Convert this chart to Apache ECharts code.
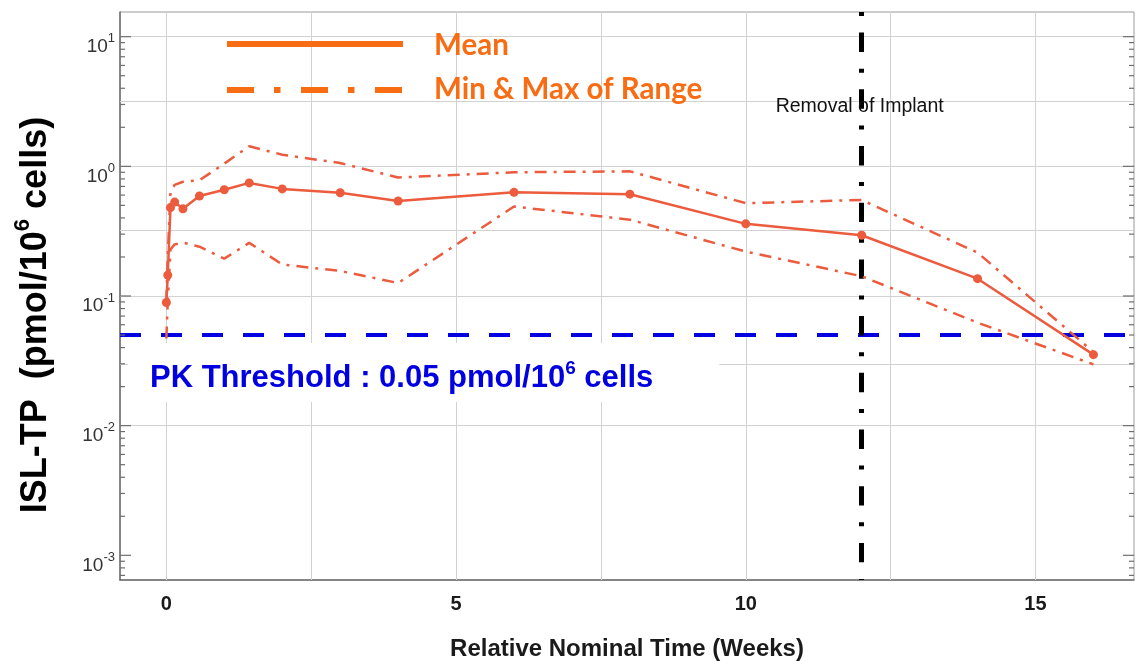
<!DOCTYPE html>
<html>
<head>
<meta charset="utf-8">
<script src="https://cdn.jsdelivr.net/npm/echarts@6/dist/echarts.min.js"></script>
<style>
  html, body { margin: 0; padding: 0; background: #fff; }
  #chart { width: 1138px; height: 661px; }
</style>
</head>
<body>
<div id="chart"></div>
<script>
// Nominal sampling times (weeks)
const weeks = [0, 0.024, 0.071, 0.143, 0.286, 0.571, 1, 1.43, 2, 3, 4, 6, 8, 10, 12, 14, 16];
// ISL-TP concentrations (pmol/10^6 cells)
const meanConc = [0.089, 0.145, 0.48, 0.53, 0.47, 0.59, 0.66, 0.745, 0.67, 0.625, 0.54, 0.63, 0.61, 0.36, 0.294, 0.136, 0.0353];
const maxConc  = [0.09, 0.2, 0.63, 0.72, 0.76, 0.78, 1.05, 1.43, 1.23, 1.06, 0.82, 0.90, 0.915, 0.52, 0.55, 0.216, 0.037];
const minConc  = [0.047, 0.09, 0.228, 0.25, 0.258, 0.24, 0.194, 0.257, 0.175, 0.156, 0.126, 0.49, 0.388, 0.22, 0.142, 0.0623, 0.0297];

// Reference levels
const pkThreshold = 0.05;      // pmol/10^6 cells
const implantRemovalWeek = 12; // weeks

// Axis gridline / tick positions
const xGridWeeks = [0, 2.5, 5, 7.5, 10, 12.5, 15];
const yGridExponents = [-3, -2.5, -2, -1.5, -1, -0.5, 0, 0.5, 1];
const yDecadeExponents = [-4, -3, -2, -1, 0, 1];
const yMinorMultipliers = [2, 3, 4, 5, 6, 7, 8, 9];

const X_MIN = -0.8, X_MAX = 16.7;
const Y_MIN = 6.45e-4, Y_MAX = 15.5;

const lineRed = '#EC5B3D';
const legendOrange = '#F86C14';
const thresholdBlue = '#0000E0';
const fontMain = '"Liberation Sans", Arial, sans-serif';

// tick marks along both vertical edges: [value, isMajor]
const yTickMarks = [];
yDecadeExponents.forEach(e => {
  const base = Math.pow(10, e);
  yTickMarks.push([base, 1]);
  yMinorMultipliers.forEach(m => yTickMarks.push([m * base, 0]));
});
const yTicksInRange = yTickMarks.filter(t => t[0] >= Y_MIN && t[0] <= Y_MAX);

const chart = echarts.init(document.getElementById('chart'), null, { renderer: 'canvas' });

const option = {
  animation: false,
  backgroundColor: '#fff',
  grid: {
    left: 120, right: 4, top: 12, bottom: 81,
    outerBoundsMode: 'none', containLabel: false,
    show: true, borderColor: '#9a9a9a', borderWidth: 1, backgroundColor: 'transparent'
  },
  xAxis: {
    type: 'value', min: X_MIN, max: X_MAX, splitNumber: 3,
    axisLine: { show: true, onZero: false, lineStyle: { color: '#6e6e6e', width: 1.5 } },
    axisTick: { show: false },
    splitLine: { show: false },
    axisLabel: {
      showMinLabel: false, showMaxLabel: false, margin: 14,
      color: '#1a1a1a', fontSize: 20, fontWeight: 'bold', fontFamily: fontMain
    },
    name: 'Relative Nominal Time (Weeks)',
    nameLocation: 'middle', nameGap: 57,
    nameTextStyle: { color: '#1a1a1a', fontSize: 24, fontWeight: 'bold', fontFamily: fontMain }
  },
  yAxis: {
    type: 'log', logBase: 10, min: Y_MIN, max: Y_MAX,
    axisLine: { show: true, onZero: false, lineStyle: { color: '#6e6e6e', width: 1.5 } },
    axisTick: { show: false },
    splitLine: { show: false },
    minorTick: { show: false },
    axisLabel: {
      showMinLabel: false, showMaxLabel: false, margin: 5,
      padding: [15, 0, 0, 0],
      formatter: v => {
        const e = Math.round(Math.log10(v));
        return '{b|10}{s|' + (e < 0 ? '-' : '') + Math.abs(e) + '}';
      },
      rich: {
        b: { fontSize: 19, fontFamily: fontMain, color: '#333', padding: [5, 0, 0, 0] },
        s: { fontSize: 13, fontFamily: fontMain, color: '#333', verticalAlign: 'top' }
      }
    }
  },
  series: [
    {
      // light gridlines
      name: 'grid', type: 'line', data: [], silent: true,
      markLine: {
        silent: true, z: 1, symbol: 'none', animation: false,
        label: { show: false },
        lineStyle: { color: '#d2d2d2', width: 1, type: 'solid' },
        data: [
          ...xGridWeeks.map(w => ({ xAxis: w })),
          ...yGridExponents.map(e => ({ yAxis: Math.pow(10, e) }))
        ]
      }
    },
    {
      name: 'PK Threshold', type: 'line', data: [], silent: true,
      markLine: {
        silent: true, z: 2, symbol: 'none', animation: false,
        lineStyle: { color: thresholdBlue, width: 4, type: [21, 20] },
        label: {
          show: true, position: 'insideStartBottom', distance: 8,
          backgroundColor: '#fff', padding: [16, 66, 8, 22],
          formatter: () => '{n|PK Threshold : ' + pkThreshold + ' pmol/10}{s|6}{n| cells}',
          rich: {
            n: { fontSize: 31, fontWeight: 'bold', fontFamily: fontMain, color: thresholdBlue, padding: [4, 0, 0, 0] },
            s: { fontSize: 19, fontWeight: 'bold', fontFamily: fontMain, color: thresholdBlue, verticalAlign: 'top' }
          }
        },
        data: [{ yAxis: pkThreshold }]
      }
    },
    {
      name: 'Removal of Implant', type: 'line', data: [], silent: true,
      markLine: {
        silent: true, z: 2, symbol: 'none', animation: false,
        label: { show: false },
        lineStyle: { color: '#000', width: 5, type: [19.4, 16.6, 4, 16.7], dashOffset: 39 },
        data: [{ xAxis: implantRemovalWeek }]
      }
    },
    {
      name: 'Max', type: 'line', z: 3, symbol: 'none',
      data: weeks.map((w, i) => [w, maxConc[i]]),
      lineStyle: { color: lineRed, width: 2.5, type: [12, 7, 3, 7] }
    },
    {
      name: 'Min', type: 'line', z: 3, symbol: 'none',
      data: weeks.map((w, i) => [w, minConc[i]]),
      lineStyle: { color: lineRed, width: 2.5, type: [12, 7, 3, 7] }
    },
    {
      name: 'Mean', type: 'line', z: 4, symbol: 'circle', symbolSize: 9,
      data: weeks.map((w, i) => [w, meanConc[i]]),
      lineStyle: { color: lineRed, width: 2.5 },
      itemStyle: { color: lineRed }
    },
    {
      // log tick marks on left and right frame edges
      name: 'yTicks', type: 'custom', silent: true, z: 5, clip: false,
      data: yTicksInRange.map(t => [0, t[0], t[1]]),
      encode: { x: 0, y: 1 },
      renderItem: (params, api) => {
        const cs = params.coordSys;
        const y = api.coord([0, api.value(1)])[1];
        const len = api.value(2) ? 11 : 5;
        const st = { stroke: '#6e6e6e', lineWidth: 1.2 };
        return {
          type: 'group',
          children: [
            { type: 'line', shape: { x1: cs.x, y1: y, x2: cs.x + len, y2: y }, style: st },
            { type: 'line', shape: { x1: cs.x + cs.width, y1: y, x2: cs.x + cs.width - len, y2: y }, style: st }
          ]
        };
      }
    }
  ]
};

chart.setOption(option);

// annotations placed through the chart's own coordinate conversion
const removalPt = chart.convertToPixel({ gridIndex: 0 }, [implantRemovalWeek, 2.9]);

chart.setOption({
  graphic: [
    // legend
    { type: 'line', shape: { x1: 227, y1: 44, x2: 403, y2: 44 }, style: { stroke: legendOrange, lineWidth: 6 }, z: 10 },
    { type: 'line', shape: { x1: 227, y1: 90, x2: 403, y2: 90 }, style: { stroke: legendOrange, lineWidth: 6, lineDash: [27, 20, 6.5, 20.5] }, z: 10 },
    { type: 'text', x: 434, y: 45, z: 10, style: { text: 'Mean', fill: legendOrange, font: 'bold 29.5px Lato, "Open Sans", sans-serif', verticalAlign: 'middle' } },
    { type: 'text', x: 434, y: 89, z: 10, style: { text: 'Min & Max of Range', fill: legendOrange, font: 'bold 29.5px Lato, "Open Sans", sans-serif', verticalAlign: 'middle' } },
    // vertical line caption
    { type: 'text', x: removalPt[0] - 2, y: removalPt[1], z: 10, style: { text: 'Removal of Implant', fill: '#111', font: '19.5px "Liberation Sans", Arial, sans-serif', align: 'center', verticalAlign: 'middle' } },
    // y-axis title
    {
      type: 'text', x: 33, y: 315, rotation: Math.PI / 2, z: 10,
      style: {
        text: '{t|ISL-TP  (pmol/10}{s|6}{t| cells)}',
        align: 'center', verticalAlign: 'middle',
        rich: {
          t: { fontSize: 36, fontWeight: 'bold', fontFamily: fontMain, fill: '#000', padding: [6, 0, 0, 0] },
          s: { fontSize: 22, fontWeight: 'bold', fontFamily: fontMain, fill: '#000', verticalAlign: 'top' }
        }
      }
    }
  ]
});
</script>
</body>
</html>
